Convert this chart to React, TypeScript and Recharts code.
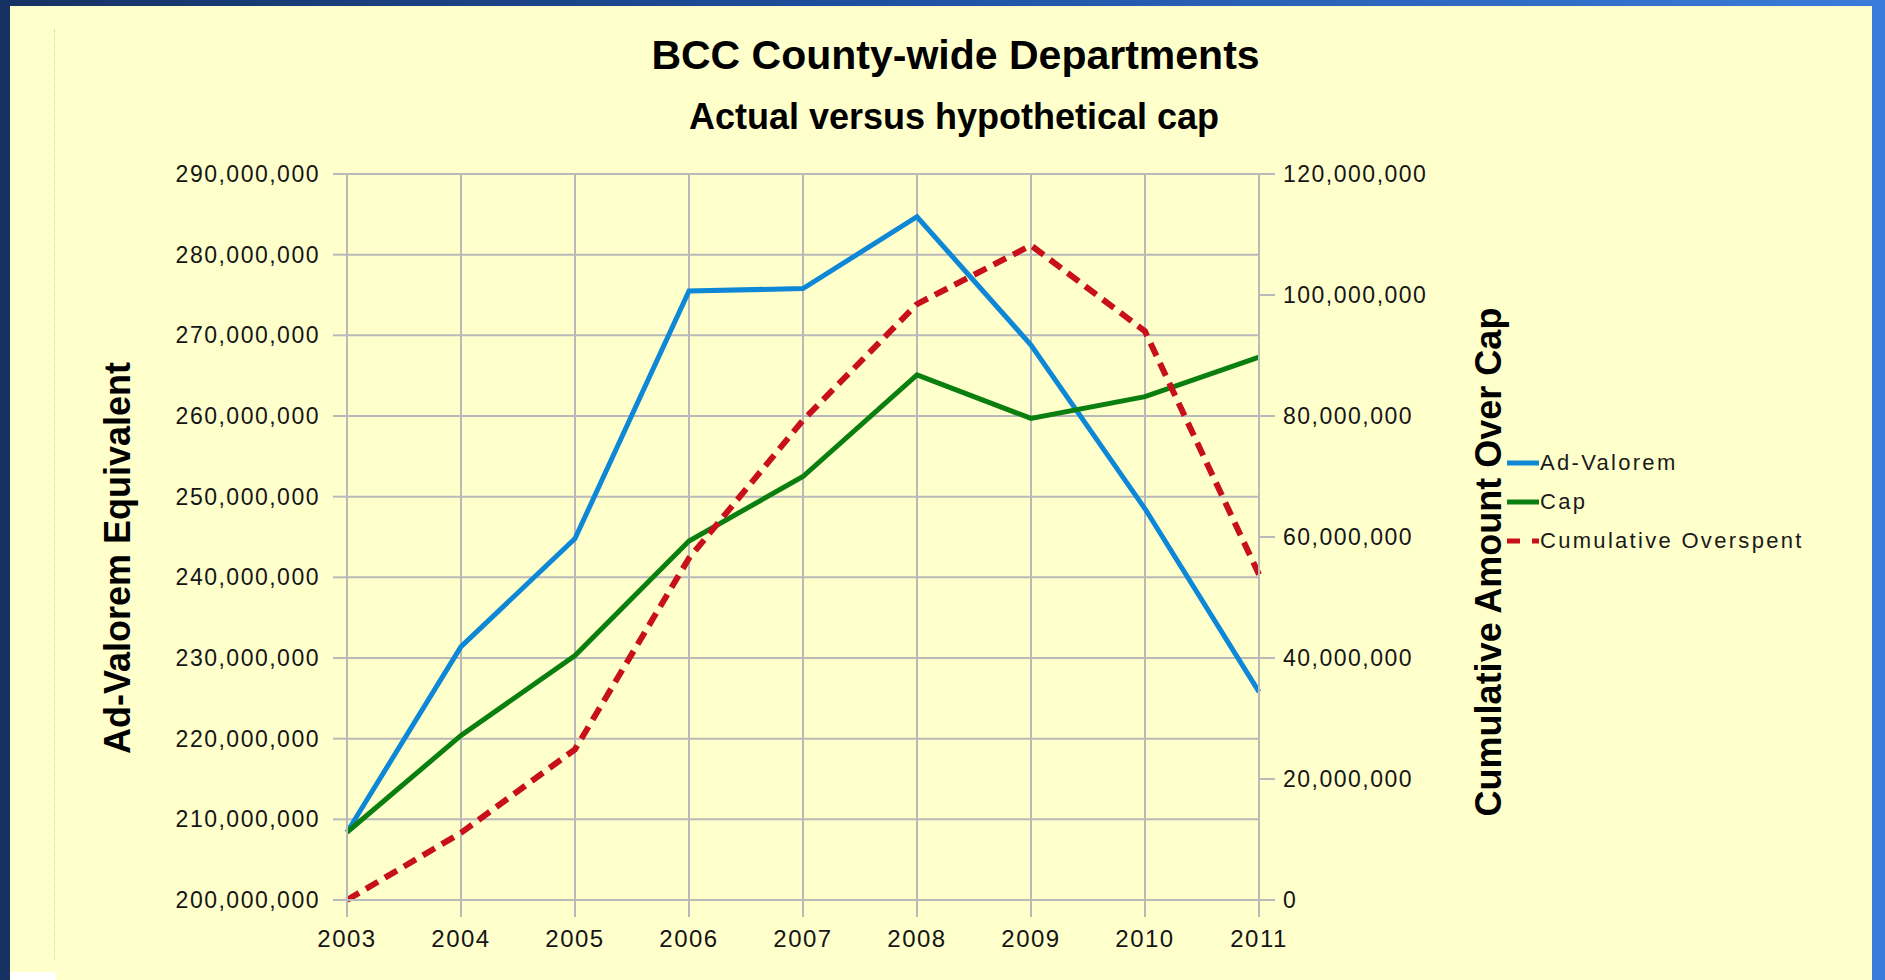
import { LineChart, Line, XAxis, YAxis, CartesianGrid } from "recharts";

const years = ["2003", "2004", "2005", "2006", "2007", "2008", "2009", "2010", "2011"];
const adValorem = [208.4, 231.4, 244.8, 275.5, 275.8, 284.7, 268.8, 248.5, 225.8];
const cap = [208.4, 220.4, 230.3, 244.5, 252.5, 265.1, 259.7, 262.4, 267.3];
const cumulativeOverspent = [0, 11.1, 24.9, 56.5, 79.3, 98.5, 108.2, 94.0, 53.8];

const leftTicks = [200, 210, 220, 230, 240, 250, 260, 270, 280, 290];
const rightTicks = [0, 20, 40, 60, 80, 100, 120];

const series = [
  { key: "adValorem", name: "Ad-Valorem", color: "#0e88d6", dash: undefined as string | undefined, axis: "left" },
  { key: "cap", name: "Cap", color: "#0a7f0f", dash: undefined as string | undefined, axis: "left" },
  { key: "overspent", name: "Cumulative Overspent", color: "#c8101c", dash: "14 8", axis: "right" },
];

const M = 1000000;
const data = years.map((year, i) => ({
  year,
  adValorem: adValorem[i] * M,
  cap: cap[i] * M,
  overspent: cumulativeOverspent[i] * M,
}));

const fmt = (v: number) => (v === 0 ? "0" : v.toLocaleString("en-US"));
const font = "'Liberation Sans', Arial, sans-serif";
const gridColor = "#b9b9b9";
const tickStyle = { fontSize: 23, fill: "#151515", fontFamily: font, letterSpacing: 1.5 };

// rotated axis title, placed relative to the axis box
const axisTitle = (text: string, side: "left" | "right", inset: number, shift: number) => (props: any) => {
  const { x, y, width, height } = props.viewBox;
  const cx = side === "left" ? x + inset : x + width - inset;
  const cy = y + height / 2 + shift;
  return (
    <text
      x={cx}
      y={cy}
      transform={`rotate(-90, ${cx}, ${cy})`}
      textAnchor="middle"
      dominantBaseline="central"
      fontSize={36}
      fontWeight={700}
      fill="#000"
      fontFamily={font}
    >
      {text}
    </text>
  );
};

export default function App() {
  return (
    <div
      style={{
        position: "absolute",
        left: 0,
        top: 0,
        width: 1885,
        height: 980,
        overflow: "hidden",
        fontFamily: font,
        background: "linear-gradient(90deg, #163263 0%, #1d4f9e 45%, #3a7cdb 100%)",
      }}
    >
      <div style={{ position: "absolute", left: 10, top: 6, width: 1862, height: 974, background: "#ffffcc" }} />
      <div style={{ position: "absolute", left: 10, top: 972, width: 46, height: 8, background: "#ffffff" }} />
      <div style={{ position: "absolute", left: 54, top: 30, height: 930, borderLeft: "1px dotted #cfcfb8" }} />

      <div
        style={{
          position: "absolute",
          left: 0,
          width: 1911,
          top: 35,
          textAlign: "center",
          fontSize: 41,
          lineHeight: "41px",
          fontWeight: 700,
          color: "#000",
        }}
      >
        BCC County-wide Departments
      </div>
      <div
        style={{
          position: "absolute",
          left: 0,
          width: 1908,
          top: 99,
          textAlign: "center",
          fontSize: 36,
          lineHeight: "36px",
          fontWeight: 700,
          color: "#000",
        }}
      >
        Actual versus hypothetical cap
      </div>

      <div style={{ position: "absolute", left: 0, top: 0 }}>
        <LineChart width={1885} height={980} data={data} margin={{ top: 174, right: 376, bottom: 20, left: 100 }}>
          <CartesianGrid yAxisId="left" stroke={gridColor} strokeWidth={2} ticks={leftTicks.map((t) => t * M)} />
          <XAxis
            dataKey="year"
            height={60}
            tick={{ ...tickStyle, fontSize: 24 }}
            tickSize={17}
            tickMargin={13}
            tickLine={{ stroke: gridColor, strokeWidth: 2 }}
            axisLine={{ stroke: gridColor, strokeWidth: 2 }}
            interval={0}
          />
          <YAxis
            yAxisId="left"
            width={247}
            domain={[200 * M, 290 * M]}
            ticks={leftTicks.map((t) => t * M)}
            tickFormatter={fmt}
            tick={tickStyle}
            tickSize={14}
            tickMargin={13}
            tickLine={{ stroke: gridColor, strokeWidth: 2 }}
            axisLine={{ stroke: gridColor, strokeWidth: 2 }}
            allowDataOverflow
            label={axisTitle("Ad-Valorem Equivalent", "left", 17, 21)}
          />
          <YAxis
            yAxisId="right"
            orientation="right"
            width={250}
            domain={[0, 120 * M]}
            ticks={rightTicks.map((t) => t * M)}
            tickFormatter={fmt}
            tick={tickStyle}
            tickSize={16}
            tickMargin={8}
            tickLine={{ stroke: gridColor, strokeWidth: 2 }}
            axisLine={{ stroke: gridColor, strokeWidth: 2 }}
            label={axisTitle("Cumulative Amount Over Cap", "right", 21, 25)}
          />
          {series.map((s) => (
            <Line
              key={s.key}
              yAxisId={s.axis}
              dataKey={s.key}
              name={s.name}
              stroke={s.color}
              strokeWidth={s.dash ? 6 : 5}
              strokeDasharray={s.dash}
              dot={false}
              activeDot={false}
              strokeLinejoin="miter"
              isAnimationActive={false}
            />
          ))}
        </LineChart>
      </div>

      {series.map((s, i) => (
        <div
          key={s.key}
          style={{
            position: "absolute",
            left: 1507,
            top: 463 + i * 39 - 14,
            height: 28,
            display: "flex",
            alignItems: "center",
            fontSize: 22,
            letterSpacing: 2.3,
            color: "#1a1a1a",
            whiteSpace: "nowrap",
          }}
        >
          <svg width={32} height={10} style={{ marginRight: 1 }}>
            <line x1={0} y1={5} x2={32} y2={5} stroke={s.color} strokeWidth={5} strokeDasharray={s.dash ? "13 12" : undefined} />
          </svg>
          <span>{s.name}</span>
        </div>
      ))}
    </div>
  );
}
